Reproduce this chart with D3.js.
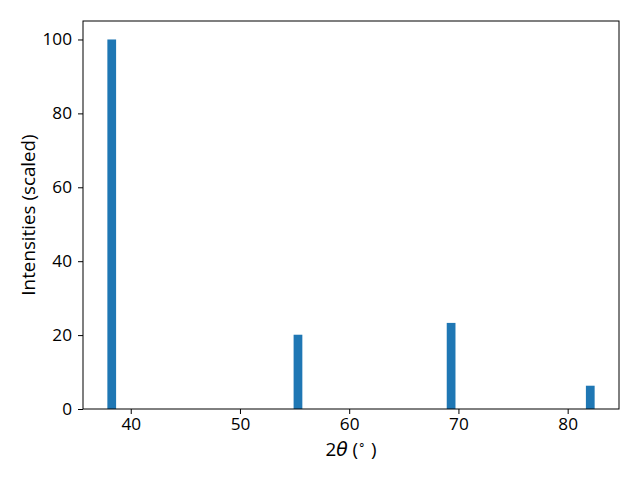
<!DOCTYPE html>
<html>
<head>
<meta charset="utf-8">
<script src="https://cdn.jsdelivr.net/npm/d3@7"></script>
<style>
  body { margin: 0; background: #fff; }
  text { font-family: "Open Sans", sans-serif; }
</style>
</head>
<body>
<svg id="chart" width="640" height="480"></svg>
<script>
// Data
const peakPositions = [38.26, 55.31, 69.33, 82.07];   // 2θ (degrees)
const intensities   = [100, 20.1, 23.3, 6.3];         // scaled
const barWidth = 0.8;
const xTicks = [40, 50, 60, 70, 80];
const yTicks = [0, 20, 40, 60, 80, 100];

const svg = d3.select("#chart");
const margin = { left: 83, right: 21, top: 21, bottom: 71 };
const W = 640, H = 480;
const x0 = margin.left, x1 = W - margin.right;
const y0 = H - margin.bottom, y1 = margin.top;

// x domain: data extent with 5% padding (matplotlib autoscale)
const lo = d3.min(peakPositions) - barWidth / 2;
const hi = d3.max(peakPositions) + barWidth / 2;
const pad = (hi - lo) * 0.05;
const x = d3.scaleLinear().domain([lo - pad, hi + pad]).range([x0, x1]);
const y = d3.scaleLinear().domain([0, d3.max(intensities) * 1.05]).range([y0, y1]);

// bars
svg.append("g").selectAll("rect")
  .data(peakPositions.map((p, i) => ({ p, v: intensities[i] })))
  .join("rect")
  .attr("x", d => x(d.p - barWidth / 2))
  .attr("width", d => x(d.p + barWidth / 2) - x(d.p - barWidth / 2))
  .attr("y", d => y(d.v))
  .attr("height", d => y(0) - y(d.v))
  .attr("fill", "#1f77b4");

const tickFs = "17.2px";
const labelFs = "18.8px";
const ff = "'Open Sans', sans-serif";

// x axis
const xAxis = svg.append("g")
  .attr("transform", `translate(0,${y0})`)
  .call(d3.axisBottom(x).tickValues(xTicks).tickSize(5).tickPadding(4).tickFormat(d3.format("d")));
xAxis.select(".domain").remove();
xAxis.selectAll("line").attr("stroke", "#000").attr("stroke-width", 1);
xAxis.selectAll("text").attr("font-size", tickFs).attr("fill", "#000").attr("font-family", ff);

// y axis
const yAxis = svg.append("g")
  .attr("transform", `translate(${x0},0)`)
  .call(d3.axisLeft(y).tickValues(yTicks).tickSize(5).tickPadding(6).tickFormat(d3.format("d")));
yAxis.select(".domain").remove();
yAxis.selectAll("line").attr("stroke", "#000").attr("stroke-width", 1);
yAxis.selectAll("text").attr("font-size", tickFs).attr("fill", "#000").attr("font-family", ff);

// frame
svg.append("rect")
  .attr("x", x0).attr("y", y1)
  .attr("width", x1 - x0).attr("height", y0 - y1)
  .attr("fill", "none").attr("stroke", "#000").attr("stroke-width", 1);

// axis labels
const xl = svg.append("text")
  .attr("x", (x0 + x1) / 2).attr("y", 456)
  .attr("text-anchor", "middle").attr("font-size", labelFs).attr("fill", "#000")
  .attr("font-family", ff);
xl.append("tspan").text("2");
xl.append("tspan").attr("font-style", "italic").attr("font-family", "'DejaVu Sans', sans-serif").text("θ");
xl.append("tspan").text(" (");
xl.append("tspan").attr("font-size", "12px").attr("dy", "-7").text("∘");
xl.append("tspan").attr("dy", "7").text(" )");

svg.append("text")
  .attr("transform", `translate(35,${(y0 + y1) / 2}) rotate(-90)`)
  .attr("text-anchor", "middle").attr("font-size", labelFs).attr("fill", "#000")
  .attr("font-family", ff)
  .text("Intensities (scaled)");
</script>
</body>
</html>
